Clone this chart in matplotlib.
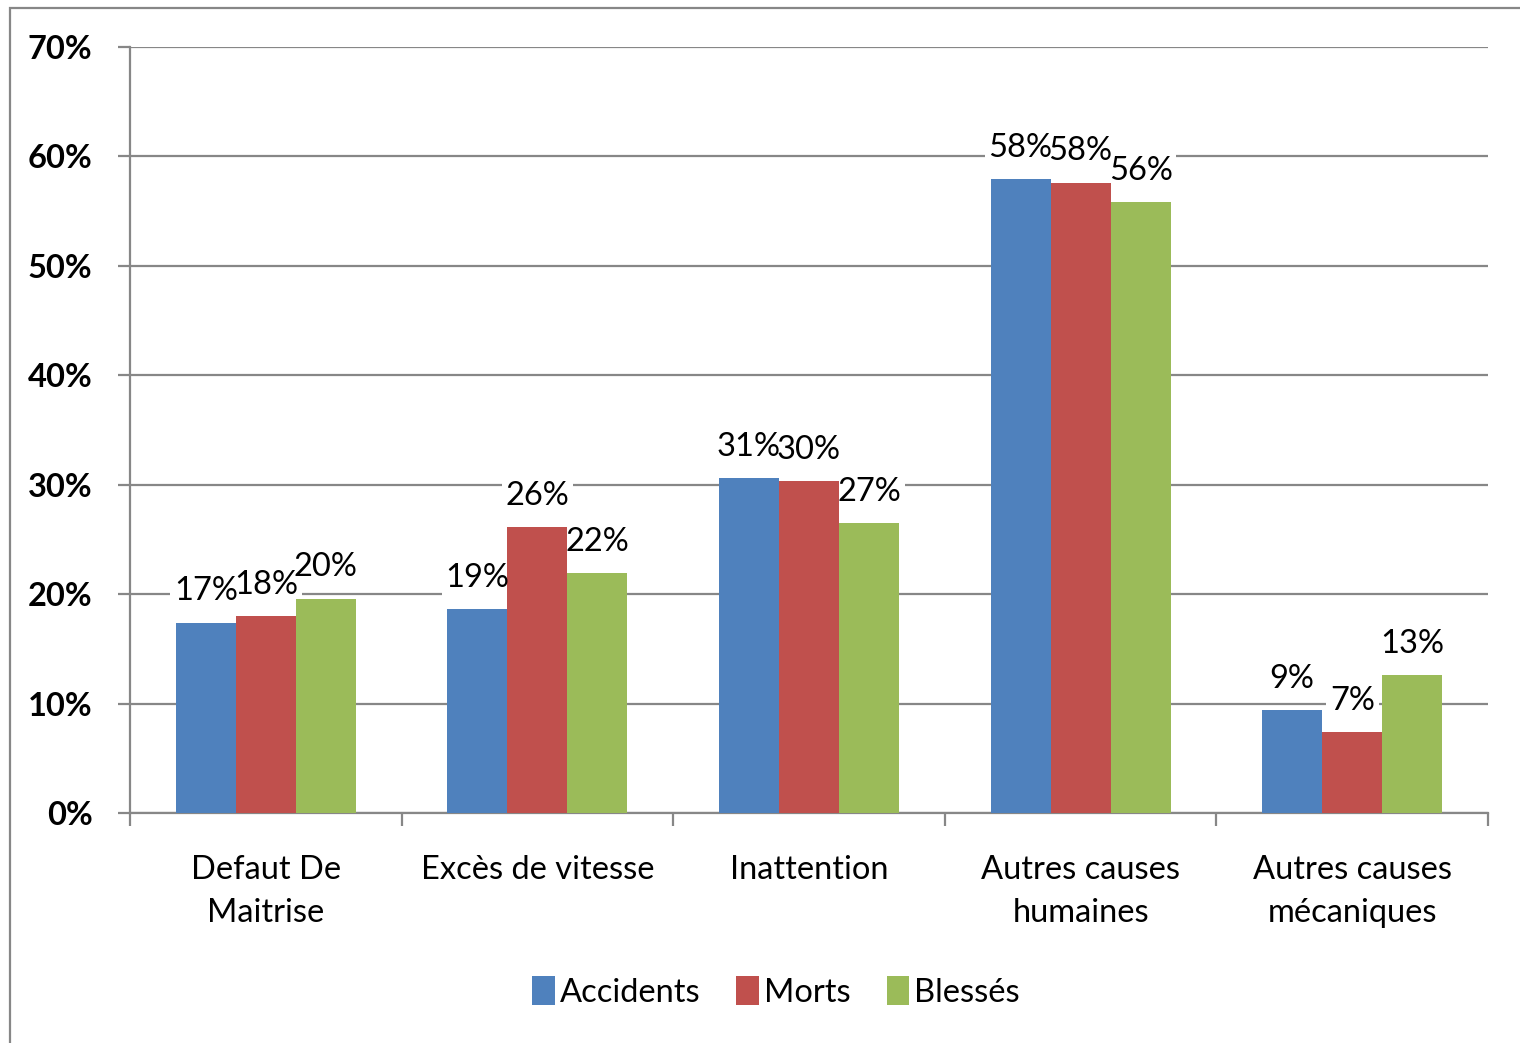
import matplotlib
matplotlib.use("Agg")
import matplotlib.pyplot as plt
from matplotlib.patches import Rectangle
import numpy as np

categories = ["Defaut De\nMaitrise", "Excès de vitesse", "Inattention",
              "Autres causes\nhumaines", "Autres causes\nmécaniques"]
series_names = ["Accidents", "Morts", "Blessés"]
accidents = [17.4, 18.6, 30.6, 57.9, 9.4]
morts = [18.0, 26.1, 30.3, 57.6, 7.4]
blesses = [19.6, 21.9, 26.5, 55.8, 12.6]
y_ticks = [0, 10, 20, 30, 40, 50, 60, 70]

colors = ["#4F81BD", "#C0504D", "#9BBB59"]
grid_col = "#878787"
FONT = "Lato"
plt.rcParams['font.family'] = [FONT, 'DejaVu Sans']
FS = 23.5

W, H = 1520, 1043
fig = plt.figure(figsize=(W / 100, H / 100), dpi=100)
ax = fig.add_axes([130 / W, 1 - 813 / H, (1488 - 130) / W, (813 - 47) / H])

# figure border
fig.patches.append(Rectangle((10 / W, -0.05), 1.2, 1 - 8 / H + 0.05, transform=fig.transFigure,
                             fill=False, edgecolor=grid_col, linewidth=1.6, zorder=0))

x = np.arange(len(categories))
bw = 0.221
data = [accidents, morts, blesses]
bars_all = []
for i, (vals, name) in enumerate(zip(data, series_names)):
    bars = ax.bar(x + (i - 1) * bw, vals, width=bw, color=colors[i], label=name, zorder=3,
                  edgecolor="none")
    bars_all.append(bars)

# data labels with white background (backgrounds below bars, text on top)
for bars, vals in zip(bars_all, data):
    for b, v in zip(bars, vals):
        cx = b.get_x() + b.get_width() / 2
        lab = f"{int(v + 0.5)}%"
        ax.annotate(lab, (cx, v), xytext=(0, 16), textcoords="offset points",
                    ha="center", va="baseline", fontsize=FS, color="none", zorder=2.5,
                    bbox=dict(boxstyle="square,pad=0.12", fc="white", ec="none"))
for bars, vals in zip(bars_all, data):
    for b, v in zip(bars, vals):
        cx = b.get_x() + b.get_width() / 2
        lab = f"{int(v + 0.5)}%"
        ax.annotate(lab, (cx, v), xytext=(0, 16), textcoords="offset points",
                    ha="center", va="baseline", fontsize=FS, color="black", zorder=5)

ax.set_xlim(-0.5, len(categories) - 0.5)
ax.set_ylim(0, 70)
ax.set_yticks(y_ticks)
ax.set_yticklabels([f"{t}%" for t in y_ticks], fontsize=FS, fontweight="bold")
ax.yaxis.grid(True, color=grid_col, linewidth=1.6, zorder=1)
ax.set_axisbelow(True)

ax.set_xticks(x)
ax.set_xticklabels(categories, fontsize=FS, linespacing=1.55)
ax.set_xticks(np.arange(len(categories) + 1) - 0.5, minor=True)
ax.tick_params(axis="x", which="major", length=0, pad=30)
ax.tick_params(axis="x", which="minor", length=9, width=1.6, color=grid_col, direction="out")
ax.tick_params(axis="y", which="major", length=9, width=1.6, color=grid_col, direction="out", pad=18)

for s in ["top", "right"]:
    ax.spines[s].set_visible(False)
for s in ["left", "bottom"]:
    ax.spines[s].set_color(grid_col)
    ax.spines[s].set_linewidth(1.6)

leg = fig.legend(loc="center", bbox_to_anchor=(776 / W, 1 - 992 / H), ncol=3, frameon=False,
                 fontsize=FS, handlelength=0.7, handleheight=1.0, handletextpad=0.15,
                 columnspacing=1.1)

fig.savefig("out.png", dpi=100)
